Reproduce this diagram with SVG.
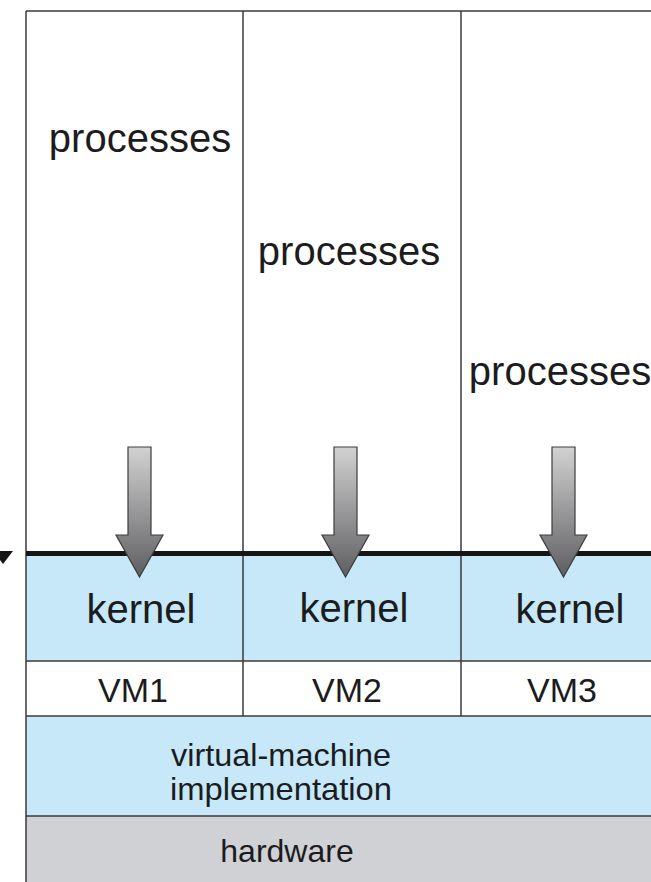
<svg xmlns="http://www.w3.org/2000/svg" width="651" height="882" viewBox="0 0 651 882">
<defs>
<linearGradient id="ag" x1="0" y1="0" x2="0" y2="1">
<stop offset="0" stop-color="#d2d2d2"/>
<stop offset="1" stop-color="#5e5e62"/>
</linearGradient>
<style>
.t{font-family:"Liberation Sans",Arial,sans-serif;fill:#1c1c1e;text-anchor:middle}
.ln{stroke:#3a3a3a;stroke-width:1.5;fill:none}
.arr{fill:url(#ag);stroke:#3c3c3c;stroke-width:1.2;stroke-linejoin:miter}
</style>
</defs>
<rect x="0" y="0" width="651" height="882" fill="#ffffff"/>
<g id="kernel-band"><rect x="26" y="555" width="625" height="106" fill="#c6e8f8"/></g>
<g id="vmimpl"><rect x="26" y="716" width="625" height="100" fill="#c6e8f8"/>
<text class="t" x="281" y="766" font-size="32" textLength="220" lengthAdjust="spacingAndGlyphs">virtual-machine</text>
<text class="t" x="281" y="800" font-size="32" textLength="222" lengthAdjust="spacingAndGlyphs">implementation</text></g>
<g id="hardware"><rect x="26" y="816" width="625" height="66" fill="#cfd1d4"/>
<text class="t" x="287" y="862" font-size="32">hardware</text></g>
<g id="frame">
<line class="ln" x1="26" y1="11" x2="651" y2="11"/>
<line class="ln" x1="26" y1="11" x2="26" y2="882" stroke="#666" stroke-width="2"/>
<line class="ln" x1="243" y1="11" x2="243" y2="716"/>
<line class="ln" x1="461" y1="11" x2="461" y2="716"/>
<line class="ln" x1="26" y1="661" x2="651" y2="661"/>
<line class="ln" x1="26" y1="716" x2="651" y2="716"/>
<line class="ln" x1="26" y1="816" x2="651" y2="816" stroke="#2d3f4a"/>
</g>
<g id="vm1"><text class="t" x="141" y="623" font-size="40">kernel</text><text class="t" x="133" y="702" font-size="34">VM1</text><text class="t" x="140" y="152" font-size="40">processes</text></g>
<g id="vm2"><text class="t" x="354" y="622" font-size="40">kernel</text><text class="t" x="347" y="702" font-size="34">VM2</text><text class="t" x="349" y="265" font-size="40">processes</text></g>
<g id="vm3"><text class="t" x="570" y="623" font-size="40">kernel</text><text class="t" x="562" y="702" font-size="34">VM3</text><text class="t" x="560" y="385" font-size="40">processes</text></g>
<g id="connectors">
<line x1="26" y1="553.5" x2="651" y2="553.5" stroke="#151515" stroke-width="5"/>
<polygon points="0,551 13,551 3,564 0,560" fill="#151515"/>
<polygon class="arr" points="128,447 151,447 151,535 163,535 139.5,577 116,535 128,535"/>
<polygon class="arr" points="334,447 357,447 357,535 369,535 345.5,577 322,535 334,535"/>
<polygon class="arr" points="552,447 575,447 575,535 587,535 563.5,577 540,535 552,535"/>
</g>
</svg>
